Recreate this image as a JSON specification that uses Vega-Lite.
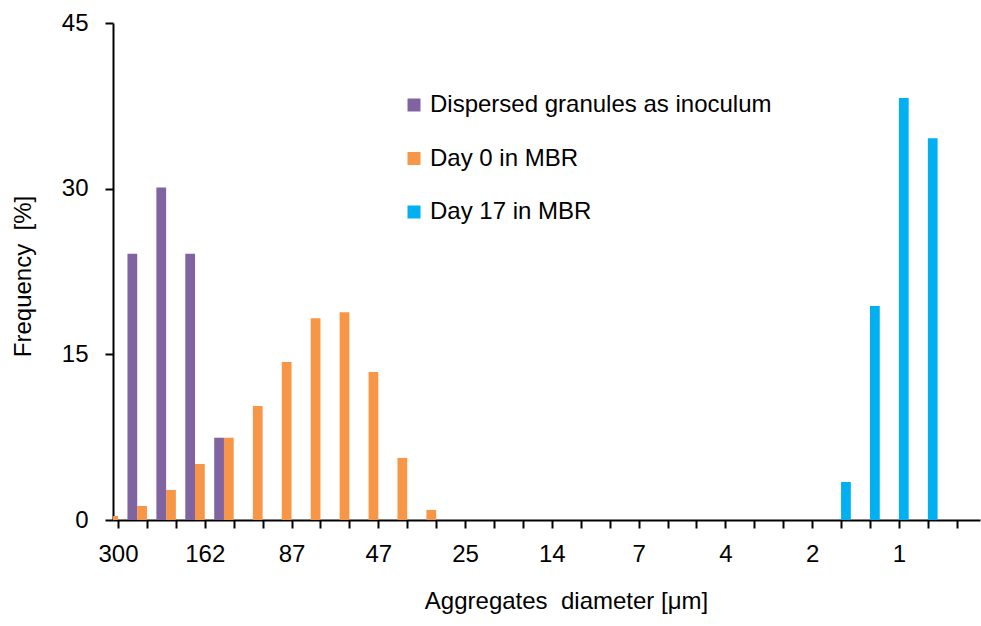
{
  "$schema": "https://vega.github.io/schema/vega-lite/v6.json",
  "width": 867,
  "height": 497,
  "autosize": {"type": "none"},
  "padding": {"left": 113, "top": 23, "right": 1, "bottom": 106},
  "background": "white",
  "config": {
    "font": "Liberation Sans",
    "view": {"stroke": null},
    "axis": {
      "grid": false,
      "domainColor": "black",
      "tickColor": "black",
      "labelColor": "black",
      "titleColor": "black",
      "domainWidth": 2,
      "tickWidth": 2,
      "labelFontSize": 24,
      "titleFontSize": 24,
      "titleFontWeight": "normal",
      "labelFlush": false,
      "labelOverlap": false
    }
  },
  "data": {
    "values": [
      {"bin": 1, "diameter": "244", "series": "Dispersed granules as inoculum", "frequency": 24.1},
      {"bin": 2, "diameter": "199", "series": "Dispersed granules as inoculum", "frequency": 30.1},
      {"bin": 3, "diameter": "162", "series": "Dispersed granules as inoculum", "frequency": 24.1},
      {"bin": 4, "diameter": "132", "series": "Dispersed granules as inoculum", "frequency": 7.45},
      {"bin": 0, "diameter": "300", "series": "Day 0 in MBR", "frequency": 0.36},
      {"bin": 1, "diameter": "244", "series": "Day 0 in MBR", "frequency": 1.27},
      {"bin": 2, "diameter": "199", "series": "Day 0 in MBR", "frequency": 2.72},
      {"bin": 3, "diameter": "162", "series": "Day 0 in MBR", "frequency": 5.07},
      {"bin": 4, "diameter": "132", "series": "Day 0 in MBR", "frequency": 7.45},
      {"bin": 5, "diameter": "107", "series": "Day 0 in MBR", "frequency": 10.33},
      {"bin": 6, "diameter": "87", "series": "Day 0 in MBR", "frequency": 14.31},
      {"bin": 7, "diameter": "71", "series": "Day 0 in MBR", "frequency": 18.27},
      {"bin": 8, "diameter": "58", "series": "Day 0 in MBR", "frequency": 18.81},
      {"bin": 9, "diameter": "47", "series": "Day 0 in MBR", "frequency": 13.41},
      {"bin": 10, "diameter": "38", "series": "Day 0 in MBR", "frequency": 5.62},
      {"bin": 11, "diameter": "31", "series": "Day 0 in MBR", "frequency": 0.91},
      {"bin": 25, "diameter": "1.7", "series": "Day 17 in MBR", "frequency": 3.44},
      {"bin": 26, "diameter": "1.3", "series": "Day 17 in MBR", "frequency": 19.38},
      {"bin": 27, "diameter": "1", "series": "Day 17 in MBR", "frequency": 38.2},
      {"bin": 28, "diameter": "0.8", "series": "Day 17 in MBR", "frequency": 34.57}
    ]
  },
  "encoding": {
    "x": {
      "field": "bin",
      "type": "quantitative",
      "scale": {"domain": [0, 29.63], "nice": false, "zero": false},
      "axis": {
        "values": [0,1,2,3,4,5,6,7,8,9,10,11,12,13,14,15,16,17,18,19,20,21,22,23,24,25,26,27,28,29],
        "labelExpr": "datum.value % 3 === 0 ? ['300','162','87','47','25','14','7','4','2','1'][datum.value / 3] : ''",
        "tickSize": 8,
        "labelPadding": 14,
        "title": "Aggregates \u00a0diameter [μm]",
        "titleX": 453,
        "titleY": 88,
        "titleAlign": "center",
        "titleBaseline": "alphabetic"
      }
    },
    "y": {
      "field": "frequency",
      "type": "quantitative",
      "stack": null,
      "scale": {"domain": [0, 45], "nice": false},
      "axis": {
        "values": [0, 15, 30, 45],
        "tickSize": 8,
        "labelPadding": 17,
        "title": "Frequency \u00a0[%]",
        "titleAngle": -90,
        "titleX": -83,
        "titleY": 253,
        "titleAlign": "center",
        "titleBaseline": "alphabetic"
      }
    },
    "color": {
      "field": "series",
      "type": "nominal",
      "scale": {
        "domain": ["Dispersed granules as inoculum", "Day 0 in MBR", "Day 17 in MBR"],
        "range": ["#8064A2", "#F79646", "#00B0F0"]
      },
      "legend": {
        "orient": "none",
        "legendX": 289,
        "legendY": 70,
        "title": null,
        "symbolType": "square",
        "symbolSize": 169,
        "symbolStrokeWidth": 0,
        "symbolOpacity": 1,
        "labelFontSize": 24,
        "labelLimit": 0,
        "labelColor": "black",
        "rowPadding": 29.5,
        "labelOffset": 4,
        "padding": 0
      }
    }
  },
  "layer": [
    {
      "transform": [{"filter": "datum.series === 'Dispersed granules as inoculum'"}],
      "mark": {"type": "bar", "orient": "vertical", "width": 9.75, "xOffset": -14.6, "clip": true}
    },
    {
      "transform": [{"filter": "datum.series === 'Day 0 in MBR'"}],
      "mark": {"type": "bar", "orient": "vertical", "width": 9.75, "xOffset": -4.87, "clip": true}
    },
    {
      "transform": [{"filter": "datum.series === 'Day 17 in MBR'"}],
      "mark": {"type": "bar", "orient": "vertical", "width": 9.75, "xOffset": 4.87, "clip": true}
    }
  ]
}
